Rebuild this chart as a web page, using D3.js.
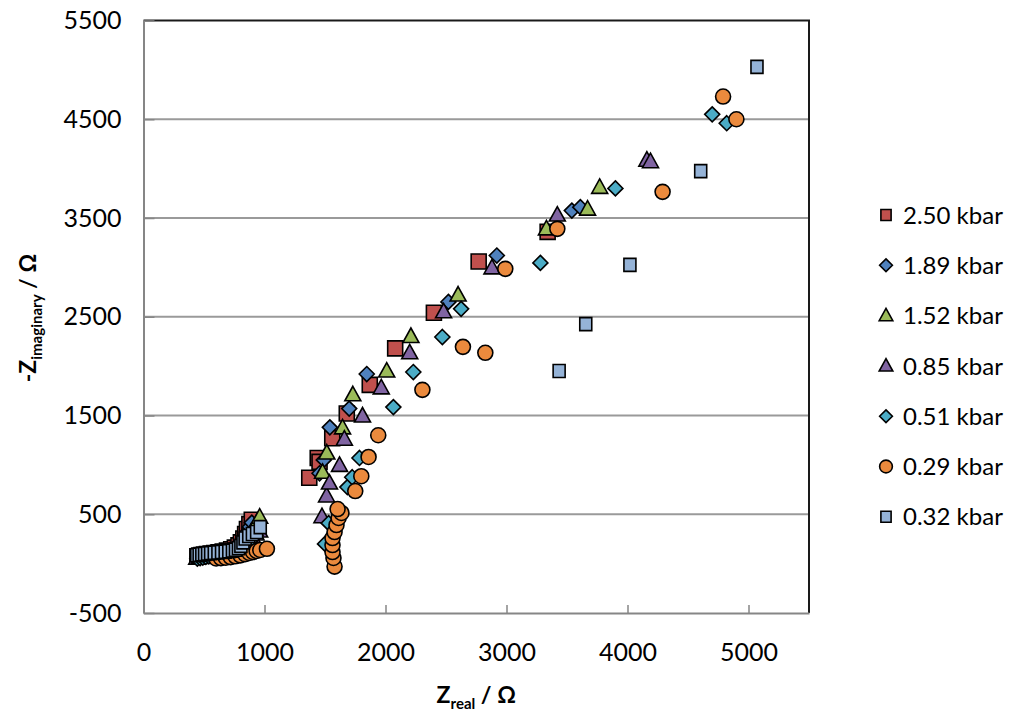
<!DOCTYPE html>
<html>
<head>
<meta charset="utf-8">
<script src="https://cdn.jsdelivr.net/npm/d3@7"></script>
<style>
body { margin: 0; background: #fff; }
text { font-family: Lato, "Open Sans", sans-serif; fill: #000; }
</style>
</head>
<body>
<script>
var width = 1019, height = 715;

// legend labels, in drawing order
var seriesNames = ["2.50 kbar", "1.89 kbar", "1.52 kbar", "0.85 kbar", "0.51 kbar", "0.29 kbar", "0.32 kbar"];

// Z real / -Z imaginary (ohm)
var zr250 = [445,460,480,500,525,555,585,620,655,690,725,755,785,805,825,840,855,875,895,1370,1440,1455,1560,1680,1870,2080,2400,2770,3340];
var zi250 = [75,82,88,92,97,103,108,115,122,132,145,162,185,215,255,300,350,400,445,870,1070,1030,1270,1520,1810,2180,2540,3060,3360];

var zr189 = [450,470,492,515,540,570,600,635,670,705,740,770,800,825,845,862,878,895,1455,1490,1540,1700,1845,2520,2920,3540,3610];
var zi189 = [70,78,84,90,95,100,106,113,121,131,145,165,195,235,280,325,372,415,915,1050,1380,1570,1920,2650,3120,3575,3610];

var zr152 = [455,475,498,520,548,578,610,645,680,715,750,785,815,840,865,890,915,940,960,1480,1515,1645,1730,2010,2210,2600,3330,3670,3770];
var zi152 = [65,72,78,84,90,96,102,110,118,128,142,160,190,230,275,320,370,420,470,925,1120,1375,1710,1950,2300,2720,3390,3590,3810];

var zr085 = [440,462,485,510,535,565,598,632,668,705,740,775,808,838,868,900,930,960,1475,1513,1537,1620,1660,1810,1965,2200,2480,2880,3420,4160,4190];
var zi085 = [55,62,68,74,80,86,92,100,108,118,130,148,170,198,232,270,300,330,475,685,816,995,1260,1495,1780,2135,2550,2995,3530,4085,4070];

var zr051 = [445,468,490,515,540,570,600,635,670,705,740,772,805,835,865,895,925,1500,1530,1685,1725,1785,2065,2230,2470,2625,3280,3900,4700,4820];
var zi051 = [50,56,62,68,74,80,86,93,101,110,122,138,158,185,215,250,285,200,410,775,875,1070,1585,1940,2295,2580,3045,3800,4550,4460];

var zr029 = [600,640,680,720,760,800,840,875,905,935,965,1020,1579,1570,1562,1562,1562,1579,1595,1612,1636,1604,1750,1800,1860,1940,2305,2640,2825,2990,3420,4290,4790,4900];
var zi029 = [52,56,60,66,74,84,96,108,118,128,138,150,-30,57,117,188,259,320,391,462,513,553,735,885,1080,1300,1760,2195,2135,2985,3390,3765,4730,4500];

var zr032 = [440,460,482,505,530,555,585,615,645,675,705,735,760,785,805,822,840,870,900,935,965,3435,3655,4020,4605,5070];
var zi032 = [85,90,95,98,102,106,110,113,117,121,126,132,140,155,180,215,255,280,300,320,370,1950,2425,3025,3975,5030];

var seriesX = [zr250, zr189, zr152, zr085, zr051, zr029, zr032];
var seriesY = [zi250, zi189, zi152, zi085, zi051, zi029, zi032];
var shapes = ["bigsquare", "diamond", "triangle", "triangle", "diamond", "circle", "square"];
var colors = ["#C0504D", "#4F81BD", "#9BBB59", "#8064A2", "#4BACC6", "#EB8A3D", "#95B3D7"];

var xTicks = [0, 1000, 2000, 3000, 4000, 5000];
var yTicks = [-500, 500, 1500, 2500, 3500, 4500, 5500];

var x = d3.scaleLinear().domain([0, 5500]).range([143.5, 809]);
var y = d3.scaleLinear().domain([-500, 5500]).range([613, 20.5]);

var svg = d3.select("body").append("svg")
    .attr("width", width)
    .attr("height", height)
    .style("background", "#fff");

// gridlines
svg.append("g").selectAll("line")
    .data(yTicks.slice(1, -1))
    .enter().append("line")
    .attr("x1", x(0)).attr("x2", x(5500))
    .attr("y1", function(d) { return y(d); })
    .attr("y2", function(d) { return y(d); })
    .attr("stroke", "#9a9a9a")
    .attr("stroke-width", 2);

// top / right frame
svg.append("path")
    .attr("d", "M" + x(0) + "," + y(5500) + "H" + x(5500) + "V" + y(-500))
    .attr("fill", "none")
    .attr("stroke", "#1a1a1a")
    .attr("stroke-width", 2);

var plain = function(d) { return String(d); };

var yAxis = svg.append("g")
    .attr("transform", "translate(" + x(0) + ",0)")
    .call(d3.axisLeft(y).tickValues(yTicks).tickFormat(plain).tickSize(-11).tickPadding(22).tickSizeOuter(0));

var xAxis = svg.append("g")
    .attr("transform", "translate(0," + y(-500) + ")")
    .call(d3.axisBottom(x).tickValues(xTicks).tickFormat(plain).tickSize(-8).tickPadding(30).tickSizeOuter(0));

[yAxis, xAxis].forEach(function(a) {
    a.select(".domain").attr("stroke", "#868686").attr("stroke-width", 2);
    a.selectAll(".tick line").attr("stroke", "#868686").attr("stroke-width", 1.5);
    a.selectAll("text").style("font-size", "25px").style("font-family", "Lato, sans-serif").attr("fill", "#000");
});

function drawMarker(g, shape, color, k) {
    var m;
    if (shape == "circle") {
        m = g.append("circle").attr("r", 7.5 * k);
    } else {
        var d;
        if (shape == "bigsquare") d = "M" + (-7.5*k) + "," + (-7.5*k) + "h" + 15*k + "v" + 15*k + "h" + (-15*k) + "Z";
        else if (shape == "square") d = "M" + (-6*k) + "," + (-6.5*k) + "h" + 12*k + "v" + 13*k + "h" + (-12*k) + "Z";
        else if (shape == "diamond") d = "M0," + (-7.5*k) + "L" + 7.5*k + ",0L0," + 7.5*k + "L" + (-7.5*k) + ",0Z";
        else d = "M0," + (-8.5*k) + "L" + 8*k + "," + 6*k + "L" + (-8*k) + "," + 6*k + "Z";
        m = g.append("path").attr("d", d);
    }
    m.attr("fill", color).attr("stroke", "#000").attr("stroke-width", 1.6);
}

// points, series by series
seriesX.forEach(function(xs, i) {
    var g = svg.append("g");
    xs.forEach(function(v, j) {
        var p = g.append("g").attr("transform", "translate(" + x(v) + "," + y(seriesY[i][j]) + ")");
        drawMarker(p, shapes[i], colors[i], 1);
    });
});

// legend
var legend = svg.append("g");
seriesNames.forEach(function(name, i) {
    var row = legend.append("g").attr("transform", "translate(886," + (215 + i * 50.3) + ")");
    drawMarker(row, shapes[i] == "bigsquare" ? "square" : shapes[i], colors[i], 0.85);
    row.append("text")
        .attr("x", 17)
        .attr("dy", "0.36em")
        .style("font-size", "24px")
        .text(name);
});

// axis titles
var xt = svg.append("text")
    .attr("x", (x(0) + x(5500)) / 2)
    .attr("y", 703)
    .attr("text-anchor", "middle")
    .style("font-weight", "bold")
    .style("font-size", "23px");
xt.append("tspan").text("Z");
xt.append("tspan").attr("dy", 6).style("font-size", "15px").text("real");
xt.append("tspan").attr("dy", -6).text(" / Ω");

var yt = svg.append("text")
    .attr("transform", "translate(36,318) rotate(-90)")
    .attr("text-anchor", "middle")
    .style("font-weight", "bold")
    .style("font-size", "23px");
yt.append("tspan").text("-Z");
yt.append("tspan").attr("dy", 6).style("font-size", "15px").text("imaginary");
yt.append("tspan").attr("dy", -6).text(" / Ω");
</script>
</body>
</html>
